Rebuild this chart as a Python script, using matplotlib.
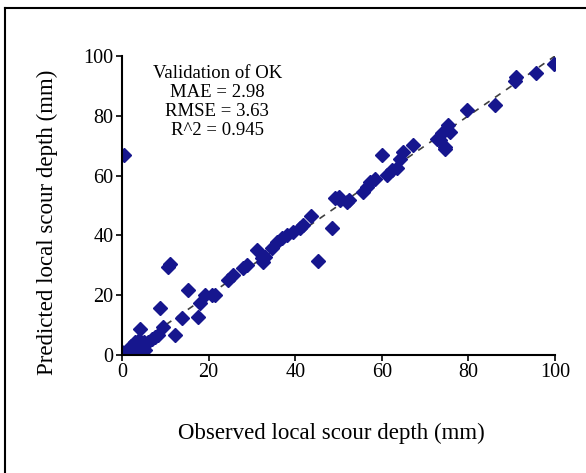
import matplotlib
matplotlib.use("Agg")
import matplotlib.pyplot as plt
from matplotlib.lines import Line2D

plt.rcParams['font.family'] = ['Liberation Serif', 'DejaVu Serif']

# Observed vs predicted local scour depth (mm)
observed = [0.0, 0.7, 1.4, 1.5, 2.0, 3.0, 3.4, 3.5, 4.0, 4.5, 5.0, 5.3, 6.0, 7.0, 7.6, 8.3,
            4.2, 9.5, 8.8, 10.6, 11.0, 12.2, 13.8, 15.2,
            17.6, 18.0, 19.2, 20.7, 21.5,
            0.4,
            24.5, 25.7, 28.0, 28.8,
            31.1, 32.3, 32.6, 33.0, 34.6, 35.7, 36.9, 38.0, 39.6, 41.1, 41.8,
            43.6, 45.3, 48.4,
            49.2, 50.0, 50.3, 51.9, 52.5,
            55.7, 56.5, 57.3, 58.4,
            60.0, 61.1, 62.3, 63.4, 64.2, 64.9, 67.3,
            72.7, 73.4, 73.8, 74.6, 75.4, 75.8, 74.5,
            79.6, 86.1, 90.8, 91.1, 95.6, 99.8]
predicted = [1.0, 0.7, 1.7, 0.5, 3.0, 4.4, 1.1, 2.0, 5.0, 3.3, 4.5, 1.7, 4.4, 5.5, 6.1, 6.7,
             8.8, 9.5, 15.7, 29.5, 30.5, 6.7, 12.4, 21.7,
             12.8, 17.3, 20.0, 20.2, 20.0,
             66.8,
             25.0, 26.8, 29.0, 30.0,
             35.0, 32.4, 31.2, 32.9, 35.7, 37.9, 39.0, 40.0, 41.2, 42.4, 43.5,
             46.5, 31.5, 42.5,
             52.4, 53.0, 51.8, 51.3, 52.0,
             54.6, 56.3, 58.0, 59.0,
             66.9, 60.2, 61.9, 62.4, 65.7, 68.0, 70.2,
             72.4, 71.9, 74.1, 69.7, 76.9, 74.7, 68.8,
             81.9, 83.6, 91.5, 93.1, 94.4, 97.3]

x_ticks = [0, 20, 40, 60, 80, 100]
y_ticks = [0, 20, 40, 60, 80, 100]
stats_text = "Validation of OK\nMAE = 2.98\nRMSE = 3.63\nR^2 = 0.945"

fig = plt.figure(figsize=(5.86, 4.73), dpi=100)
ax = fig.add_axes([122/586, 1-355/473, (555-122)/586, (355-56)/473])

ax.plot([0, 100], [0, 100], linestyle=(0, (4, 4)), color='#404040', lw=1.2, zorder=1)
ax.plot(observed, predicted, linestyle='none', marker='D', markersize=7,
        color='#16168e', zorder=2)

ax.set_xlim(0, 100)
ax.set_ylim(0, 100)
ax.set_xticks(x_ticks)
ax.set_yticks(y_ticks)
for s in ['top', 'right']:
    ax.spines[s].set_visible(False)
for s in ['left', 'bottom']:
    ax.spines[s].set_linewidth(1.5)
ax.tick_params(axis='both', direction='out', length=4, width=1.2, labelsize=14.5, pad=2)

ax.set_xlabel("Observed local scour depth (mm)", fontsize=16.5)
ax.xaxis.set_label_coords(0.484, -0.228)
ax.set_ylabel("Predicted local scour depth (mm)", fontsize=16.5)
ax.yaxis.set_label_coords(-0.148, 0.445)

ax.text(22, 97, stats_text, ha='center', va='top', fontsize=13.5, linespacing=1.15)

fig.add_artist(Line2D([5/586, 5/586], [0, 1-8/473], transform=fig.transFigure,
                      color='black', lw=1.5))
fig.add_artist(Line2D([5/586, 1], [1-8/473, 1-8/473], transform=fig.transFigure,
                      color='black', lw=1.5))

fig.savefig("out.png", dpi=100)
